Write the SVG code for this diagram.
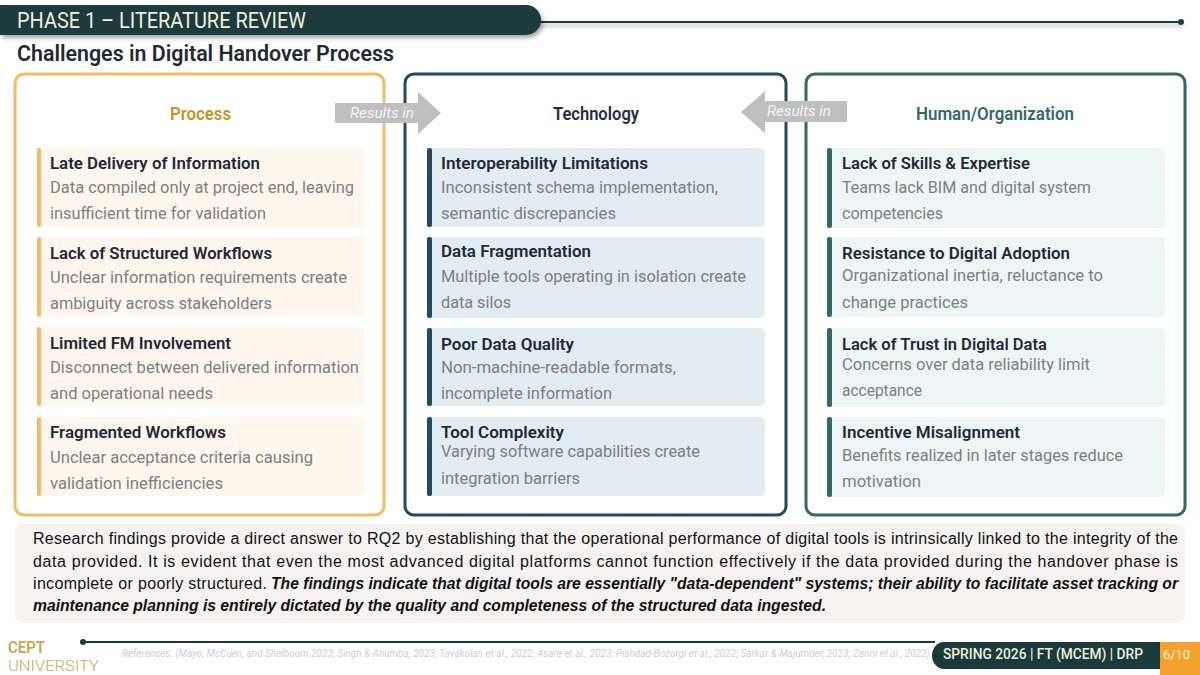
<svg xmlns="http://www.w3.org/2000/svg" width="1200" height="675" viewBox="0 0 1200 675">
<style>
text{font-family:Roboto,"Noto Sans",sans-serif}
.t{font-size:17px;font-weight:600;fill:#1f2937}
.d{font-size:17px;fill:#7b7f85}
.h{font-size:18px;font-weight:600}
.p{fill:#fff;stroke-width:3}
.a{font-size:15px;font-style:italic;fill:#f4f4f4}
.b{font-family:"Liberation Sans",Arial,sans-serif;font-size:16px;fill:#111}
.bi{font-weight:700;font-style:italic}
.o{fill:#fff6ee}.oa{fill:#f4bb63}
.n{fill:#e3ebf3}.na{fill:#234a5e}
.g{fill:#eef6f5}.ga{fill:#33696a}
</style>
<defs>
<filter id="s" filterUnits="userSpaceOnUse" x="0" y="0" width="1200" height="675"><feDropShadow dx="2" dy="3" stdDeviation="2" flood-color="#000" flood-opacity="0.35"/></filter>
</defs>
<rect width="1200" height="675" fill="#fff"/>
<g id="header">
<rect x="535" y="21" width="646" height="2" fill="#1a3a3c" filter="url(#s)"/>
<circle cx="1181" cy="22" r="3" fill="#1a3a3c"/>
<path d="M0 5H526a15 15 0 0 1 0 30H0Z" fill="#1a3a3c" filter="url(#s)"/>
<text x="17" y="28" font-size="22" fill="#f3eedd" textLength="289" lengthAdjust="spacingAndGlyphs">PHASE 1 – LITERATURE REVIEW</text>
<text x="17" y="61" font-size="22" font-weight="600" fill="#1f2937" textLength="377" lengthAdjust="spacingAndGlyphs">Challenges in Digital Handover Process</text>
</g>
<g id="process">
<rect class="p" x="15" y="74" width="369" height="441" rx="9" stroke="#f4bb63"/>
<text class="h" x="170" y="120" fill="#c8931f" textLength="61" lengthAdjust="spacingAndGlyphs">Process</text>
<g id="p1"><rect class="o" x="37" y="148" width="327" height="79" rx="5"/><rect class="oa" x="37" y="148" width="4" height="79" rx="2"/>
<text class="t" x="50" y="169" textLength="210" lengthAdjust="spacingAndGlyphs">Late Delivery of Information</text><text class="d" x="50" y="193" textLength="304" lengthAdjust="spacingAndGlyphs">Data compiled only at project end, leaving</text><text class="d" x="50" y="219" textLength="216" lengthAdjust="spacingAndGlyphs">insufficient time for validation</text></g>
<g id="p2"><rect class="o" x="37" y="237" width="327" height="80" rx="5"/><rect class="oa" x="37" y="237" width="4" height="80" rx="2"/>
<text class="t" x="50" y="259" textLength="222" lengthAdjust="spacingAndGlyphs">Lack of Structured Workflows</text><text class="d" x="50" y="283" textLength="297" lengthAdjust="spacingAndGlyphs">Unclear information requirements create</text><text class="d" x="50" y="309" textLength="222" lengthAdjust="spacingAndGlyphs">ambiguity across stakeholders</text></g>
<g id="p3"><rect class="o" x="37" y="327" width="327" height="79" rx="5"/><rect class="oa" x="37" y="327" width="4" height="79" rx="2"/>
<text class="t" x="50" y="349" textLength="181" lengthAdjust="spacingAndGlyphs">Limited FM Involvement</text><text class="d" x="50" y="373" textLength="309" lengthAdjust="spacingAndGlyphs">Disconnect between delivered information</text><text class="d" x="50" y="399" textLength="163" lengthAdjust="spacingAndGlyphs">and operational needs</text></g>
<g id="p4"><rect class="o" x="37" y="417" width="327" height="79" rx="5"/><rect class="oa" x="37" y="417" width="4" height="79" rx="2"/>
<text class="t" x="50" y="438" textLength="176" lengthAdjust="spacingAndGlyphs">Fragmented Workflows</text><text class="d" x="50" y="463" textLength="263" lengthAdjust="spacingAndGlyphs">Unclear acceptance criteria causing</text><text class="d" x="50" y="489" textLength="173" lengthAdjust="spacingAndGlyphs">validation inefficiencies</text></g>
</g>
<g id="technology">
<rect class="p" x="405" y="74" width="381" height="441" rx="9" stroke="#234a5e"/>
<text class="h" x="553" y="120" fill="#1f2e3d" textLength="86" lengthAdjust="spacingAndGlyphs">Technology</text>
<g id="t1"><rect class="n" x="427" y="148" width="338" height="79" rx="5"/><rect class="na" x="427" y="148" width="5" height="79" rx="2"/>
<text class="t" x="441" y="169" textLength="207" lengthAdjust="spacingAndGlyphs">Interoperability Limitations</text><text class="d" x="441" y="193" textLength="277" lengthAdjust="spacingAndGlyphs">Inconsistent schema implementation,</text><text class="d" x="441" y="219" textLength="175" lengthAdjust="spacingAndGlyphs">semantic discrepancies</text></g>
<g id="t2"><rect class="n" x="427" y="237" width="338" height="81" rx="5"/><rect class="na" x="427" y="237" width="5" height="81" rx="2"/>
<text class="t" x="441" y="257" textLength="150" lengthAdjust="spacingAndGlyphs">Data Fragmentation</text><text class="d" x="441" y="282" textLength="305" lengthAdjust="spacingAndGlyphs">Multiple tools operating in isolation create</text><text class="d" x="441" y="308" textLength="70" lengthAdjust="spacingAndGlyphs">data silos</text></g>
<g id="t3"><rect class="n" x="427" y="328" width="338" height="78" rx="5"/><rect class="na" x="427" y="328" width="5" height="78" rx="2"/>
<text class="t" x="441" y="350" textLength="133" lengthAdjust="spacingAndGlyphs">Poor Data Quality</text><text class="d" x="441" y="373" textLength="235" lengthAdjust="spacingAndGlyphs">Non-machine-readable formats,</text><text class="d" x="441" y="399" textLength="171" lengthAdjust="spacingAndGlyphs">incomplete information</text></g>
<g id="t4"><rect class="n" x="427" y="417" width="338" height="79" rx="5"/><rect class="na" x="427" y="417" width="5" height="79" rx="2"/>
<text class="t" x="441" y="438" textLength="123" lengthAdjust="spacingAndGlyphs">Tool Complexity</text><text class="d" x="441" y="457" textLength="259" lengthAdjust="spacingAndGlyphs">Varying software capabilities create</text><text class="d" x="441" y="484" textLength="139" lengthAdjust="spacingAndGlyphs">integration barriers</text></g>
</g>
<g id="human">
<rect class="p" x="806" y="74" width="379" height="441" rx="9" stroke="#33696a"/>
<text class="h" x="916" y="120" fill="#33696a" textLength="158" lengthAdjust="spacingAndGlyphs">Human/Organization</text>
<g id="h1"><rect class="g" x="827" y="148" width="338" height="80" rx="5"/><rect class="ga" x="827" y="148" width="5" height="80" rx="2"/>
<text class="t" x="842" y="169" textLength="188" lengthAdjust="spacingAndGlyphs">Lack of Skills &amp; Expertise</text><text class="d" x="842" y="193" textLength="249" lengthAdjust="spacingAndGlyphs">Teams lack BIM and digital system</text><text class="d" x="842" y="219" textLength="101" lengthAdjust="spacingAndGlyphs">competencies</text></g>
<g id="h2"><rect class="g" x="827" y="237" width="338" height="80" rx="5"/><rect class="ga" x="827" y="237" width="5" height="80" rx="2"/>
<text class="t" x="842" y="259" textLength="228" lengthAdjust="spacingAndGlyphs">Resistance to Digital Adoption</text><text class="d" x="842" y="281" textLength="261" lengthAdjust="spacingAndGlyphs">Organizational inertia, reluctance to</text><text class="d" x="842" y="308" textLength="126" lengthAdjust="spacingAndGlyphs">change practices</text></g>
<g id="h3"><rect class="g" x="827" y="328" width="338" height="79" rx="5"/><rect class="ga" x="827" y="328" width="5" height="79" rx="2"/>
<text class="t" x="842" y="350" textLength="205" lengthAdjust="spacingAndGlyphs">Lack of Trust in Digital Data</text><text class="d" x="842" y="370" textLength="248" lengthAdjust="spacingAndGlyphs">Concerns over data reliability limit</text><text class="d" x="842" y="396" textLength="80" lengthAdjust="spacingAndGlyphs">acceptance</text></g>
<g id="h4"><rect class="g" x="827" y="417" width="338" height="80" rx="5"/><rect class="ga" x="827" y="417" width="5" height="80" rx="2"/>
<text class="t" x="842" y="438" textLength="178" lengthAdjust="spacingAndGlyphs">Incentive Misalignment</text><text class="d" x="842" y="461" textLength="281" lengthAdjust="spacingAndGlyphs">Benefits realized in later stages reduce</text><text class="d" x="842" y="487" textLength="79" lengthAdjust="spacingAndGlyphs">motivation</text></g>
</g>
<g id="connectors">
<polygon points="335,103 418,103 418,92 441,113 418,134 418,123 335,123" fill="#bfbfbf"/>
<text class="a" x="350" y="118" textLength="64" lengthAdjust="spacingAndGlyphs">Results in</text>
<polygon points="741,112 765,91 765,101 847,101 847,122 765,122 765,133" fill="#bfbfbf"/>
<text class="a" x="767" y="116" textLength="64" lengthAdjust="spacingAndGlyphs">Results in</text>
</g>
<g id="summary">
<rect x="15" y="524" width="1170" height="99" rx="8" fill="#f6f2f1"/>
<text class="b" x="33" y="544" textLength="1145" lengthAdjust="spacing">Research findings provide a direct answer to RQ2 by establishing that the operational performance of digital tools is intrinsically linked to the integrity of the</text>
<text class="b" x="33" y="567" textLength="1145" lengthAdjust="spacing">data provided. It is evident that even the most advanced digital platforms cannot function effectively if the data provided during the handover phase is</text>
<text class="b" x="33" y="589" textLength="234" lengthAdjust="spacing">incomplete or poorly structured.</text>
<text class="b bi" x="271" y="589" textLength="907" lengthAdjust="spacingAndGlyphs">The findings indicate that digital tools are essentially "data-dependent" systems; their ability to facilitate asset tracking or</text>
<text class="b bi" x="33" y="611" textLength="793" lengthAdjust="spacingAndGlyphs">maintenance planning is entirely dictated by the quality and completeness of the structured data ingested.</text>
</g>
<g id="footer">
<rect x="83" y="641" width="852" height="2" fill="#1a3a3c"/>
<circle cx="83" cy="642" r="3" fill="#1a3a3c"/>
<text x="8" y="653" font-size="17" font-weight="600" fill="#c9a64d" textLength="37" lengthAdjust="spacingAndGlyphs">CEPT</text>
<text x="8" y="671" font-size="15" font-weight="300" fill="#c9a64d" textLength="91" lengthAdjust="spacingAndGlyphs">UNIVERSITY</text>
<text x="122" y="657" font-size="10" font-style="italic" fill="#cfcfcf" textLength="808" lengthAdjust="spacingAndGlyphs">References: (Mayo, McCuen, and Shelbourn 2023; Singh &amp; Anumba, 2023; Tavakolan et al., 2022; Asare et al., 2023; Pishdad-Bozorgi et al., 2022; Sarkar &amp; Majumder, 2023; Zanni et al., 2022)</text>
<path d="M1160 642H944a12 13.500 0 0 0 0 27H1160Z" fill="#1a3a3c"/>
<text x="943" y="659" font-size="14" font-weight="500" fill="#f3eedd" textLength="200" lengthAdjust="spacingAndGlyphs">SPRING 2026 | FT (MCEM) | DRP</text>
<rect x="1160" y="642" width="40" height="33" fill="#f4a22d"/>
<text x="1163" y="659" font-size="12" fill="#fff3dc" textLength="27" lengthAdjust="spacingAndGlyphs">6/10</text>
</g>
</svg>
